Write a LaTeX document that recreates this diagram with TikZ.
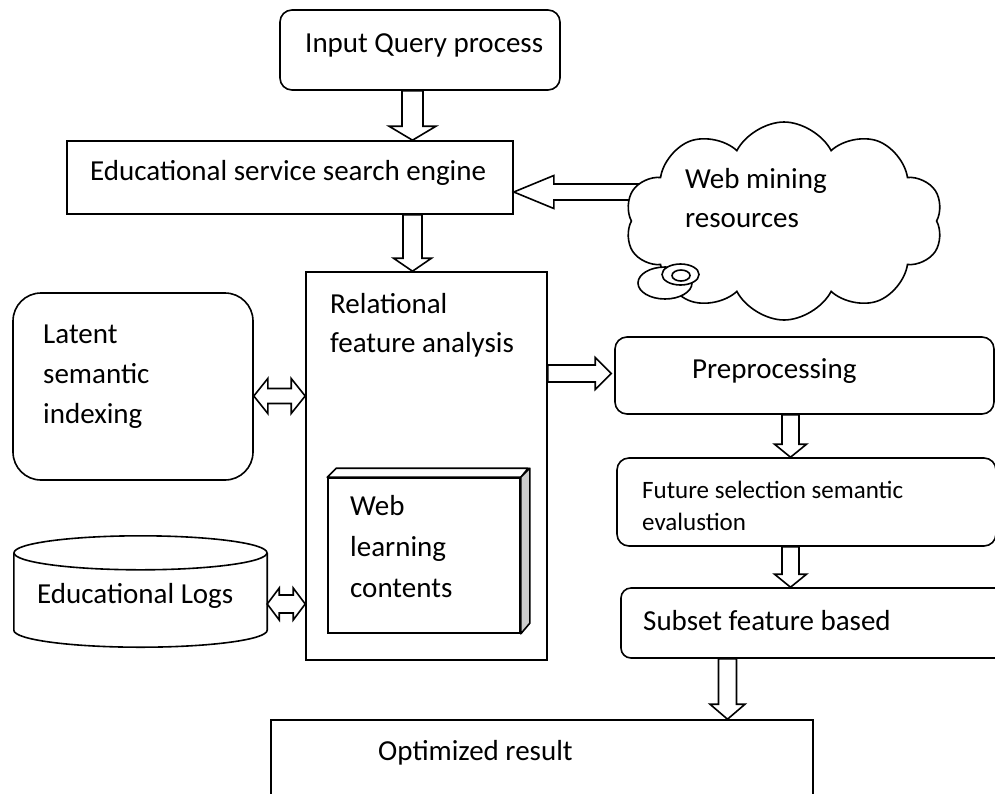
\documentclass[tikz,border=0pt]{standalone}
\usepackage{fontspec}
\setmainfont{Carlito}
\usetikzlibrary{calc,shapes.symbols}
\tikzset{
  lw/.style={line width=1.6pt},
  box/.style={draw, lw, inner sep=0pt},
  rbox/.style={box, rounded corners=12pt},
  blk/.style={draw, fill=white, lw, line join=miter},
  lbl/.style={anchor=base west, inner sep=0pt, font=\fontsize{29pt}{40pt}\selectfont, align=left},
  slbl/.style={lbl, font=\fontsize{25pt}{32pt}\selectfont},
}
% vertical block arrow: x from #1, start y from #1, tip y from #2
\newcommand\vblk[5]{\draw[blk] let \p1=#1, \p2=#2 in (\x1-#3,\y1) -- (\x1-#3,\y2+#5) -- (\x1-#4,\y2+#5) -- (\x1,\y2) -- (\x1+#4,\y2+#5) -- (\x1+#3,\y2+#5) -- (\x1+#3,\y1) -- cycle;}
% left pointing block arrow
\newcommand\lblk[5]{\draw[blk] let \p1=#1, \p2=#2 in (\x1,\y1+#3) -- (\x2+#5,\y1+#3) -- (\x2+#5,\y1+#4) -- (\x2,\y1) -- (\x2+#5,\y1-#4) -- (\x2+#5,\y1-#3) -- (\x1,\y1-#3) -- cycle;}
% right pointing block arrow
\newcommand\rblk[5]{\draw[blk] let \p1=#1, \p2=#2 in (\x1,\y1+#3) -- (\x2-#5,\y1+#3) -- (\x2-#5,\y1+#4) -- (\x2,\y1) -- (\x2-#5,\y1-#4) -- (\x2-#5,\y1-#3) -- (\x1,\y1-#3) -- cycle;}
% double block arrow
\newcommand\dblk[5]{\draw[blk] let \p1=#1, \p2=#2 in (\x1,\y1) -- (\x1+#5,\y1+#4) -- (\x1+#5,\y1+#3) -- (\x2-#5,\y1+#3) -- (\x2-#5,\y1+#4) -- (\x2,\y1) -- (\x2-#5,\y1-#4) -- (\x2-#5,\y1-#3) -- (\x1+#5,\y1-#3) -- (\x1+#5,\y1-#4) -- cycle;}
\begin{document}
\begin{tikzpicture}[x=1pt,y=-1pt]
\useasboundingbox (0,0) rectangle (995,793);
\clip (0,0) rectangle (995,793);

% boxes
\node[rbox, minimum width=280pt, minimum height=80pt] (input) at (420,50) {};
\node[box, minimum width=446pt, minimum height=73pt] (engine) at (290,177.5) {};
\node[box, minimum width=241pt, minimum height=388pt] (rel) at (426.5,466) {};
\node[box, rounded corners=28pt, minimum width=240pt, minimum height=187pt] (lsi) at (133,386.5) {};
\node[rbox, minimum width=379pt, minimum height=77pt] (pre) at (804.5,375.5) {};
\node[rbox, minimum width=379pt, minimum height=88pt] (fut) at (806.5,502) {};
\node[rbox, rounded corners=10pt, minimum width=384pt, minimum height=70pt] (sub) at (813,623) {};
\node[box, minimum width=542pt, minimum height=100pt] (opt) at (542,770) {};

% cylinder: educational logs
\node[inner sep=0pt, minimum width=253pt, minimum height=111pt] (logs) at (140.5,591.5) {};
\draw[lw] ($(logs.north)+(0,17)$) ellipse [x radius=126.5pt, y radius=17pt];
\draw[lw] ($(logs.north west)+(0,17)$) -- ($(logs.south west)+(0,-17)$)
  .. controls +(0,9.4) and +(-69.8,0) .. (logs.south)
  .. controls +(69.8,0) and +(0,9.4) .. ($(logs.south east)+(0,-17)$)
  -- ($(logs.north east)+(0,17)$);

% 3D box: web learning contents
\node[box, fill=white, minimum width=192pt, minimum height=155pt] (web) at (424,555.5) {};
\draw[lw, fill=white, line join=round] (web.north west) -- ++(9,-9) -- ++(192,0) -- (web.north east) -- cycle;
\draw[lw, fill=gray!40, line join=round] (web.north east) -- ++(9,-9) -- ++(0,155) -- (web.south east) -- cycle;

% block arrows
\vblk{([xshift=-7.5pt]input.south)}{(engine.north)}{10.5pt}{23.5pt}{14pt}
\vblk{([xshift=-14pt]rel.north |- engine.south)}{(rel.north)}{9.5pt}{19pt}{13pt}
\lblk{([xshift=125pt,yshift=-14.5pt]engine.east)}{(engine.east)}{8pt}{16.5pt}{40pt}
\rblk{([yshift=2pt]rel.east |- pre.west)}{([xshift=-3pt]pre.west)}{8.5pt}{16pt}{16pt}
\vblk{([xshift=-14pt]pre.south)}{(fut.north)}{8.5pt}{16pt}{13pt}
\vblk{([xshift=-16pt]fut.south)}{(sub.north)}{8.5pt}{16pt}{13pt}
\vblk{([xshift=-85.5pt]sub.south)}{(opt.north)}{9pt}{17.5pt}{15pt}
\dblk{([yshift=-9.5pt]lsi.east)}{(rel.west)}{7.5pt}{17.5pt}{14pt}
\dblk{([yshift=-12.5pt]logs.east)}{(rel.west)}{9pt}{16pt}{12pt}

% cloud
\node[cloud, draw, fill=white, lw, cloud puffs=10, cloud puff arc=125, aspect=1.6,
      minimum width=318pt, minimum height=198pt, inner sep=0pt] (cloud) at (784,221) {};
\draw[lw, fill=white] (665,283) ellipse [x radius=27pt, y radius=16pt];
\draw[lw, fill=white] (680.5,274.5) ellipse [x radius=18.5pt, y radius=10.5pt];
\draw[lw] (681,275.5) ellipse [x radius=9pt, y radius=5.5pt];

% texts (anchor: baseline of last line)
\node[lbl] (t-input) at (305,52) {Input Query process};
\node[lbl] (t-engine) at (90,180) {Educational service search engine};
\node[lbl, font=\fontsize{29pt}{39pt}\selectfont] (t-cloud) at (685,227) {Web mining\\resources};
\node[lbl, font=\fontsize{29pt}{39pt}\selectfont] (t-rel) at (330,352) {Relational\\feature analysis};
\node[lbl] (t-lsi) at (43,423) {Latent\\semantic\\indexing};
\node[lbl, font=\fontsize{29pt}{41pt}\selectfont] (t-web) at (350,597) {Web\\learning\\contents};
\node[lbl] (t-logs) at (37,603) {Educational Logs};
\node[lbl] (t-pre) at (692,378) {Preprocessing};
\node[slbl] (t-fut) at (642,530) {Future selection semantic\\evalustion};
\node[lbl] (t-sub) at (643,630) {Subset feature based};
\node[lbl] (t-opt) at (378,760) {Optimized result};
\end{tikzpicture}
\end{document}
